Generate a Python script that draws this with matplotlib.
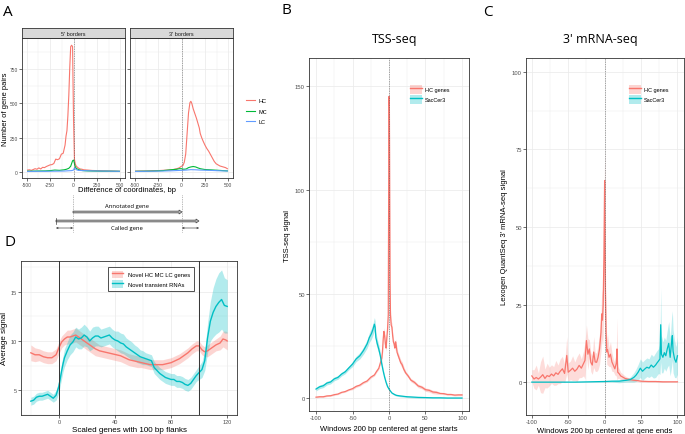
import matplotlib
matplotlib.use("Agg")
import matplotlib.pyplot as plt
import numpy as np
from matplotlib.patches import Patch, FancyArrow
from matplotlib.lines import Line2D

# ---- panel A: distance between called and annotated borders ----
a5_hc_x = [-490, -470, -450, -430, -410, -390, -370, -350, -330, -310,
           -290, -270, -250, -230, -210, -190, -170, -150, -130, -110,
           -90, -80, -70, -60, -50, -40, -30, -20, -10, 0,
           10, 20, 30, 50, 70, 90, 110, 150, 200, 250,
           300, 350, 400, 450, 490]
a5_hc_y = [12, 14, 10, 16, 22, 18, 28, 20, 32, 30,
           38, 44, 50, 52, 60, 92, 88, 95, 128, 135,
           195, 260, 300, 410, 560, 760, 915, 925, 915, 400,
           90, 55, 40, 28, 20, 18, 14, 12, 9, 8,
           7, 6, 5, 4, 3]
a5_mc_x = [-490, -400, -300, -250, -200, -150, -100, -75, -50, -30, -20, -10, 0, 5,
           10, 15, 20, 30, 40, 60, 80, 100, 150, 200, 300, 400, 490]
a5_mc_y = [4, 5, 6, 8, 12, 10, 14, 18, 25, 40, 60, 80, 85, 75,
           60, 45, 35, 25, 20, 14, 10, 8, 6, 5, 4, 4, 3]
a5_lc_x = [-490, -400, -300, -200, -100, -50, -20, 0, 10, 20, 30, 50, 100, 200, 300, 400, 490]
a5_lc_y = [2, 3, 3, 4, 5, 7, 8, 12, 28, 22, 15, 10, 8, 6, 5, 4, 3]

a3_hc_x = [-490, -450, -400, -350, -300, -250, -200, -150, -100, -75,
           -50, -25, 0, 15, 30, 45, 60, 75, 90, 100,
           110, 125, 140, 160, 175, 190, 200, 215, 230, 250,
           270, 290, 310, 330, 350, 370, 390, 410, 430, 450,
           470, 490]
a3_hc_y = [4, 5, 5, 6, 8, 8, 10, 12, 14, 18,
           22, 28, 40, 45, 70, 130, 280, 430, 505, 515,
           500, 460, 430, 390, 355, 320, 280, 250, 225, 195,
           170, 150, 125, 100, 75, 58, 50, 42, 38, 34,
           30, 22]
a3_mc_x = [-490, -400, -300, -200, -100, -50, -25, 0, 25, 50, 75, 100, 125, 150, 175,
           200, 250, 300, 350, 400, 490]
a3_mc_y = [3, 4, 5, 8, 15, 18, 22, 22, 18, 20, 30, 35, 38, 35, 28, 22, 16, 14, 12, 10, 6]
a3_lc_x = [-490, -300, -200, -100, 0, 50, 100, 150, 200, 300, 400, 490]
a3_lc_y = [2, 4, 5, 7, 10, 12, 15, 14, 12, 10, 7, 5]

# ---- panel B: TSS-seq ----
b_hc_x = [-100, -95, -90, -85, -80, -75, -70, -65, -60, -55,
          -50, -45, -40, -35, -30, -25, -20, -17, -14, -12,
          -10, -9, -8, -7, -6, -5, -4, -3, -2, -1,
          -0.5, 0, 0.5, 1, 1.5, 2, 3, 4, 5, 6,
          7, 8, 9, 10, 11, 12, 14, 16, 18, 20,
          23, 26, 30, 35, 40, 45, 50, 55, 60, 65,
          70, 75, 80, 85, 90, 95, 100]
b_hc_y = [0.4, 0.6, 0.6, 1.0, 1.1, 1.6, 1.9, 2.7, 3.1, 3.9,
          4.5, 5.6, 6.2, 7.4, 8.2, 10.0, 11.1, 12.8, 14.3, 16.7,
          19, 22, 28, 32, 30, 26, 24, 29, 33, 40,
          90, 145, 140, 95, 55, 40, 35, 34, 30, 27,
          26, 24, 27, 25, 22, 21, 19, 17, 16, 14,
          12, 10.7, 8.6, 7.5, 5.8, 5.2, 4.0, 3.7, 2.9, 2.7,
          2.2, 2.1, 1.7, 1.7, 1.4, 1.5, 1.5]
b_hc_w = [0.3] * 10 + [0.5] * 10 + [1.2, 1.3, 1.5, 1.8, 1.8, 1.6, 1.5, 1.6, 1.8, 2.5,
          4, 5, 5, 4, 3, 2.5, 2, 2, 1.8, 1.6] + [1.4] * 10 + [0.8] * 10 + [0.4] * 7
b_sc_x = [-100, -95, -90, -85, -80, -75, -70, -65, -60, -55,
          -50, -45, -40, -35, -30, -27, -24, -22, -20, -19,
          -18, -16, -14, -12, -10, -8, -6, -4, -2, 0,
          2, 4, 6, 8, 10, 15, 20, 25, 30, 40,
          50, 60, 70, 80, 90, 100]
b_sc_y = [4.3, 5.4, 5.9, 7.2, 7.7, 9.2, 9.9, 11.5, 12.6, 14.5,
          16.3, 18.8, 20.3, 22.8, 26, 29, 31, 33, 35.5, 34,
          29, 26, 23.5, 20.5, 16.5, 13, 10, 7.5, 5.5, 4.3,
          3.3, 2.4, 2.0, 1.6, 1.3, 1.0, 0.8, 0.6, 0.5, 0.3,
          0.2, 0.1, 0.1, 0.0, 0.0, 0.0]
b_sc_w = [0.9] * 10 + [1.2, 1.3, 1.5, 1.7, 2.0, 2.3, 2.6, 2.8, 3.2, 3.0,
          2.6, 2.3, 2.0, 1.8, 1.5, 1.2, 1.0, 0.8, 0.7, 0.6] + [0.4] * 10 + [0.2] * 6

# ---- panel C: 3' mRNA-seq ----
c_hc_x = [-100, -97, -94, -91, -88, -85, -82, -79, -76, -73,
          -70, -67, -64, -61, -58, -55, -52, -50, -47, -44,
          -41, -38, -35, -32, -29, -27, -25, -23, -21, -19,
          -17, -15, -13, -11, -9, -7, -5, -4, -3, -2,
          -1, 0, 1, 2, 3, 4, 6, 8, 10, 12,
          14, 16, 17, 18, 20, 22, 25, 28, 31, 35,
          40, 45, 50, 60, 70, 80, 90, 100]
c_hc_y = [2.0, 1.0, 1.5, 1.0, 1.6, 2.4, 1.2, 2.1, 1.8, 2.6,
          2.0, 3.0, 2.5, 3.5, 4.3, 2.8, 8.6, 3.2, 3.8, 4.5,
          3.5, 4.2, 5.4, 4.5, 6.0, 7.0, 13.4, 9.0, 10.7, 6.4,
          5.5, 9.7, 6.5, 6.4, 8.0, 10.7, 16, 22, 20, 25,
          40, 65, 30, 16, 9.7, 10.5, 8.0, 9.0, 6.5, 5.4,
          4.3, 6, 10.7, 3.2, 2.7, 2.0, 1.6, 1.2, 1.0, 0.8,
          0.6, 0.5, 0.3, 0.2, 0.2, 0.1, 0.1, 0.1]
c_hc_w = [2, 3, 4, 2, 5, 6, 3, 4, 3, 3,
          3, 4, 3, 4, 4, 3, 6, 3, 3, 4,
          3, 4, 4, 3, 4, 6, 5, 5, 3, 3,
          3, 5, 3, 3, 4, 5, 6, 8, 8, 10,
          12, 10, 8, 5, 4, 5, 3, 4, 3, 2,
          2, 4, 10, 2, 1.5, 1.2, 1, 0.8, 0.6, 0.5,
          0.4, 0.3, 0.3, 0.2, 0.2, 0.2, 0.1, 0.1]
c_sc_x = [-100, -80, -60, -40, -20, 0, 10, 20, 30, 35,
          40, 43, 46, 49, 52, 55, 58, 61, 64, 67,
          70, 72, 74, 76, 77, 78, 80, 82, 84, 86,
          88, 90, 92, 93, 94, 96, 98, 100]
c_sc_y = [0.0, 0.0, 0.0, 0.0, 0.1, 0.2, 0.3, 0.3, 0.6, 0.8,
          1.5, 2.2, 3.2, 4.5, 3.5, 4.2, 4.8, 4.5, 5.5, 4.8,
          5.5, 6.2, 6.8, 7.5, 18.5, 9.0, 8.0, 9.5, 8.5, 10.7,
          12.5, 8.0, 13, 15, 10, 7.5, 6.4, 8.5]
c_sc_w = [0.05, 0.05, 0.05, 0.05, 0.1, 0.2, 0.3, 0.5, 0.6, 0.8,
          1.5, 2, 2.5, 3, 3, 3, 3, 3, 3.5, 3.5,
          4, 4, 4, 5, 12, 6, 5, 5, 5, 6,
          7, 6, 8, 8, 7, 6, 5, 6]

# ---- panel D: scaled genes ----
d_hc_x = [-20, -17, -14, -11, -8, -5, -2, 0, 2, 4,
          6, 8, 10, 12, 14, 16, 18, 20, 23, 26,
          29, 32, 35, 38, 41, 44, 47, 50, 53, 56,
          59, 62, 65, 68, 71, 74, 77, 80, 83, 86,
          89, 92, 95, 98, 100, 102, 104, 106, 109, 112,
          115, 117, 119, 120]
d_hc_y = [8.8, 8.6, 8.6, 8.4, 8.3, 8.3, 8.6, 9.3, 9.9, 10.2,
          10.4, 10.4, 10.5, 10.6, 10.4, 10.2, 10.0, 9.8, 9.5, 9.2,
          9.0, 8.9, 8.8, 8.7, 8.6, 8.5, 8.3, 8.1, 8.0, 7.9,
          7.8, 7.7, 7.6, 7.6, 7.6, 7.6, 7.7, 7.8, 8.0, 8.2,
          8.5, 8.8, 9.2, 9.5, 9.5, 9.1, 8.9, 9.0, 9.3, 9.6,
          9.8, 10.2, 10.1, 10.0]
d_hc_w = [0.8, 0.7] + [0.6] * 8 + [0.7] * 10 + [0.6] * 10 + [0.5] * 10 + \
         [0.5] * 7 + [0.6] * 3 + [0.7, 0.8, 0.9, 0.9]
d_tr_x = [-20, -18, -16, -14, -12, -10, -8, -6, -4, -2,
          0, 1, 2, 3, 4, 6, 8, 10, 12, 14,
          16, 18, 20, 22, 24, 26, 28, 30, 32, 34,
          36, 38, 40, 42, 44, 46, 48, 50, 52, 54,
          56, 58, 60, 62, 64, 66, 68, 70, 72, 74,
          76, 78, 80, 82, 84, 86, 88, 90, 92, 94,
          96, 98, 100, 102, 104, 106, 108, 110, 112, 114,
          116, 118, 120]
d_tr_y = [3.9, 4.0, 4.3, 4.4, 4.4, 4.5, 4.6, 4.4, 4.2, 4.5,
          5.4, 6.2, 7.0, 7.7, 8.3, 9.0, 9.6, 9.9, 10.4, 10.2,
          10.3, 10.6, 10.4, 10.0, 10.3, 10.5, 10.5, 10.3, 10.4, 10.5,
          10.6, 10.3, 10.1, 10.0, 9.8, 9.7, 9.4, 9.2, 9.0, 8.8,
          8.6, 8.4, 8.3, 8.2, 8.1, 8.0, 7.3, 7.0, 6.7, 6.5,
          6.3, 6.2, 6.1, 6.1, 5.9, 5.9, 5.8, 5.6, 5.5, 5.7,
          6.1, 6.5, 6.8, 7.1, 8.0, 10.3, 12.0, 12.9, 13.5, 13.9,
          14.2, 13.6, 13.5]
d_tr_w = [0.4] * 9 + [0.5,
          0.6, 0.7, 0.8, 0.8, 0.9, 0.9, 1.0, 1.0, 1.0, 1.0,
          1.1, 1.1, 1.0, 1.0, 1.1, 1.0, 1.0, 0.9, 0.9, 0.9,
          0.9, 0.9, 0.9, 1.0, 1.0, 1.0, 0.9, 0.9, 0.9, 0.8,
          0.8, 0.7, 0.7] + [0.6] * 19 + [0.7, 0.8, 1.0, 1.5, 2.0, 2.5, 2.8, 3.0,
          3.0, 2.8, 2.7]

W, H = 685, 435
plt.rcParams['font.family'] = ['Liberation Sans', 'DejaVu Sans']
plt.rcParams['axes.unicode_minus'] = False

RED, GREEN, BLUE, CYAN = '#F8766D', '#00BA38', '#619CFF', '#00BFC4'
GRID = '#EBEBEB'


def px_axes(fig, l, t, r, b):
    return fig.add_axes([l / W, 1 - b / H, (r - l) / W, (b - t) / H])


def bw(ax, xmaj, xmin, ymaj, ymin, fs):
    ax.set_xticks(xmaj)
    ax.set_xticks(xmin, minor=True)
    ax.set_yticks(ymaj)
    ax.set_yticks(ymin, minor=True)
    ax.grid(which='major', color=GRID, lw=0.55)
    ax.grid(which='minor', color=GRID, lw=0.3)
    ax.set_axisbelow(True)
    ax.tick_params(which='major', length=2, width=0.5, color='#333333',
                   labelsize=fs, labelcolor='#4D4D4D', pad=1)
    ax.tick_params(which='minor', length=0)
    for s in ax.spines.values():
        s.set_color('#333333')
        s.set_linewidth(0.6)


def ftext(x, y, s, **kw):
    fig.text(x / W, 1 - y / H, s, **kw)


fig = plt.figure(figsize=(W / 100, H / 100), dpi=100)

# ---- A ----
axA1 = px_axes(fig, 22, 39, 125, 179)
axA2 = px_axes(fig, 130, 39, 233, 179)
for ax, title, series in [
        (axA1, "5' borders", [(a5_hc_x, a5_hc_y, RED, 'HC'), (a5_mc_x, a5_mc_y, GREEN, 'MC'),
                              (a5_lc_x, a5_lc_y, BLUE, 'LC')]),
        (axA2, "3' borders", [(a3_hc_x, a3_hc_y, RED, 'HC'), (a3_mc_x, a3_mc_y, GREEN, 'MC'),
                              (a3_lc_x, a3_lc_y, BLUE, 'LC')])]:
    for xs, ys, c, lab in series:
        ax.plot(xs, ys, color=c, lw=0.8, label=lab)
    ax.axvline(0, color='#555555', lw=0.5, ls=(0, (1, 1.5)))
    ax.set_xlim(-550, 550)
    ax.set_ylim(-46, 978)
    bw(ax, [-500, -250, 0, 250, 500], [-375, -125, 125, 375],
       [0, 250, 500, 750], [125, 375, 625, 875], 3.5)
    sax = px_axes(fig, ax.get_position().x0 * W, 29, ax.get_position().x1 * W, 39)
    sax.set_facecolor('#D9D9D9')
    sax.set_xticks([])
    sax.set_yticks([])
    for s in sax.spines.values():
        s.set_color('#333333')
        s.set_linewidth(0.6)
    sax.text(0.5, 0.5, title, ha='center', va='center', fontsize=4, color='#1A1A1A',
             transform=sax.transAxes)
axA2.tick_params(labelleft=False)
hA, lA = axA1.get_legend_handles_labels()
fig.legend(hA, lA, loc='center left', bbox_to_anchor=(241 / W, 1 - 112 / H), frameon=False,
           fontsize=4, handlelength=1.6, handletextpad=0.7, labelspacing=1.0)
ftext(127, 191, 'Difference of coordinates, bp', ha='center', va='center', fontsize=5.5)
ftext(6, 109, 'Number of gene pairs', ha='center', va='center', rotation=90, fontsize=5.5)
ftext(8, 12, 'A', ha='center', va='center', fontsize=11, family='Open Sans')

# schematic below A
sch = px_axes(fig, 0, 178, 250, 242)
sch.set_xlim(0, 250)
sch.set_ylim(242, 178)
sch.axis('off')
ann_start, ann_end = 73, 182
call_start, call_end = 56, 199
for xv in (ann_start, ann_end):
    sch.plot([xv, xv], [196, 233], color='#777777', lw=0.5, ls=(0, (1, 1.5)))
sch.add_patch(FancyArrow(ann_start, 213, ann_end - ann_start - 3, 0, width=1.8, head_width=4,
                         head_length=3, length_includes_head=False, fc='#BDBDBD', ec='#444444', lw=0.5))
sch.add_patch(FancyArrow(call_start, 222, call_end - call_start - 3, 0, width=1.8, head_width=4,
                         head_length=3, length_includes_head=False, fc='#BDBDBD', ec='#444444', lw=0.5))
sch.plot([call_start, call_start], [219, 225], color='#444444', lw=0.5)
sch.text(127, 206.5, 'Annotated gene', ha='center', va='center', fontsize=4.2, family='Open Sans')
sch.text(127, 229, 'Called gene', ha='center', va='center', fontsize=4.2, family='Open Sans')
for x0, x1 in [(call_start, ann_start), (ann_end, call_end)]:
    sch.annotate('', xy=(x1, 229), xytext=(x0, 229),
                 arrowprops=dict(arrowstyle='<->', lw=0.4, color='#222222',
                                 shrinkA=0, shrinkB=0, mutation_scale=3))

# ---- B ----
axB = px_axes(fig, 309, 59, 469, 412)
for xs, ys, ws, c, lab in [(b_hc_x, b_hc_y, b_hc_w, RED, 'HC genes'),
                           (b_sc_x, b_sc_y, b_sc_w, CYAN, 'SacCer3')]:
    xs, ys, ws = np.array(xs), np.array(ys), np.array(ws)
    axB.fill_between(xs, ys - ws, ys + ws, color=c, alpha=0.3, lw=0)
    axB.plot(xs, ys, color=c, lw=0.9)
axB.axvline(0, color='#555555', lw=0.5, ls=(0, (1, 1.5)))
axB.set_xlim(-109.6, 109.6)
axB.set_ylim(-6.25, 163.5)
bw(axB, [-100, -50, 0, 50, 100], [-75, -25, 25, 75], [0, 50, 100, 150], [25, 75, 125], 4.2)
hB = [(Patch(fc=RED, alpha=0.3, lw=0), Line2D([], [], color=RED, lw=1)),
      (Patch(fc=CYAN, alpha=0.3, lw=0), Line2D([], [], color=CYAN, lw=1))]
axB.legend(hB, ['HC genes', 'SacCer3'], loc='upper left', bbox_to_anchor=((410 - 309) / 160, 1 - (86 - 59) / 353),
           frameon=False, fontsize=4, handlelength=2.1, handleheight=2.0, handletextpad=0.6, labelspacing=0.3,
           borderaxespad=0, borderpad=0)
axB.set_xlabel('Windows 200 bp centered at gene starts', fontsize=5.5, labelpad=3.5)
axB.set_ylabel('TSS-seq signal', fontsize=5.5, labelpad=3)
ftext(395, 40, 'TSS-seq', ha='center', va='center', fontsize=9, family='Open Sans')
ftext(286, 11, 'B', ha='center', va='center', fontsize=11, family='Open Sans')

# ---- C ----
axC = px_axes(fig, 526, 59, 684, 416)
for xs, ys, ws, c, lab in [(c_hc_x, c_hc_y, c_hc_w, RED, 'HC genes'),
                           (c_sc_x, c_sc_y, c_sc_w, CYAN, 'SacCer3')]:
    xs, ys, ws = np.array(xs), np.array(ys), np.array(ws)
    axC.fill_between(xs, ys - ws, ys + ws, color=c, alpha=0.25, lw=0)
    axC.plot(xs, ys, color=c, lw=0.9)
axC.axvline(0, color='#555555', lw=0.5, ls=(0, (1, 1.5)))
axC.set_xlim(-108, 109)
axC.set_ylim(-10.6, 104.5)
bw(axC, [-100, -50, 0, 50, 100], [-75, -25, 25, 75], [0, 25, 50, 75, 100],
   [12.5, 37.5, 62.5, 87.5], 4.2)
axC.legend(hB, ['HC genes', 'SacCer3'], loc='upper left', bbox_to_anchor=((629 - 526) / 158, 1 - (86 - 59) / 357),
           frameon=False, fontsize=4, handlelength=2.1, handleheight=2.0, handletextpad=0.6, labelspacing=0.3,
           borderaxespad=0, borderpad=0)
axC.set_xlabel('Windows 200 bp centered at gene ends', fontsize=5.5, labelpad=2)
axC.set_ylabel("Lexogen QuantSeq 3' mRNA-seq signal", fontsize=5.5, labelpad=3)
ftext(600, 40, "3' mRNA-seq", ha='center', va='center', fontsize=9, family='Open Sans')
ftext(488, 12, 'C', ha='center', va='center', fontsize=11, family='Open Sans')

# ---- D ----
axD = px_axes(fig, 21, 262, 237, 416)
for xs, ys, ws, c in [(d_hc_x, d_hc_y, d_hc_w, RED), (d_tr_x, d_tr_y, d_tr_w, CYAN)]:
    xs, ys, ws = np.array(xs), np.array(ys), np.array(ws)
    axD.fill_between(xs, ys - ws, ys + ws, color=c, alpha=0.3, lw=0)
    axD.plot(xs, ys, color=c, lw=1.0)
for xv in (0, 100):
    axD.axvline(xv, color='#333333', lw=0.7)
axD.set_xlim(-27, 127)
axD.set_ylim(2.62, 18.1)
bw(axD, [0, 40, 80, 120], [-20, 20, 60, 100], [5, 10, 15], [2.5, 7.5, 12.5, 17.5], 4)
hD = [(Patch(fc=RED, alpha=0.3, lw=0), Line2D([], [], color=RED, lw=1)),
      (Patch(fc=CYAN, alpha=0.3, lw=0), Line2D([], [], color=CYAN, lw=1))]
legD = axD.legend(hD, ['Novel HC MC LC genes', 'Novel transient RNAs'], loc='upper left',
                  bbox_to_anchor=((108 - 21) / 216, 1 - (268 - 262) / 154), frameon=True, fancybox=False,
                  fontsize=4.2, handlelength=2.0, handleheight=1.6, handletextpad=0.8, labelspacing=0.4,
                  borderaxespad=0, borderpad=0.6)
legD.get_frame().set_edgecolor('#222222')
legD.get_frame().set_linewidth(0.7)
axD.set_xlabel('Scaled genes with 100 bp flanks', fontsize=5.8, labelpad=1.5)
axD.set_ylabel('Average signal', fontsize=5.8, labelpad=2)
ftext(10, 243, 'D', ha='center', va='center', fontsize=11, family='Open Sans')

fig.savefig('out.png', dpi=100)
